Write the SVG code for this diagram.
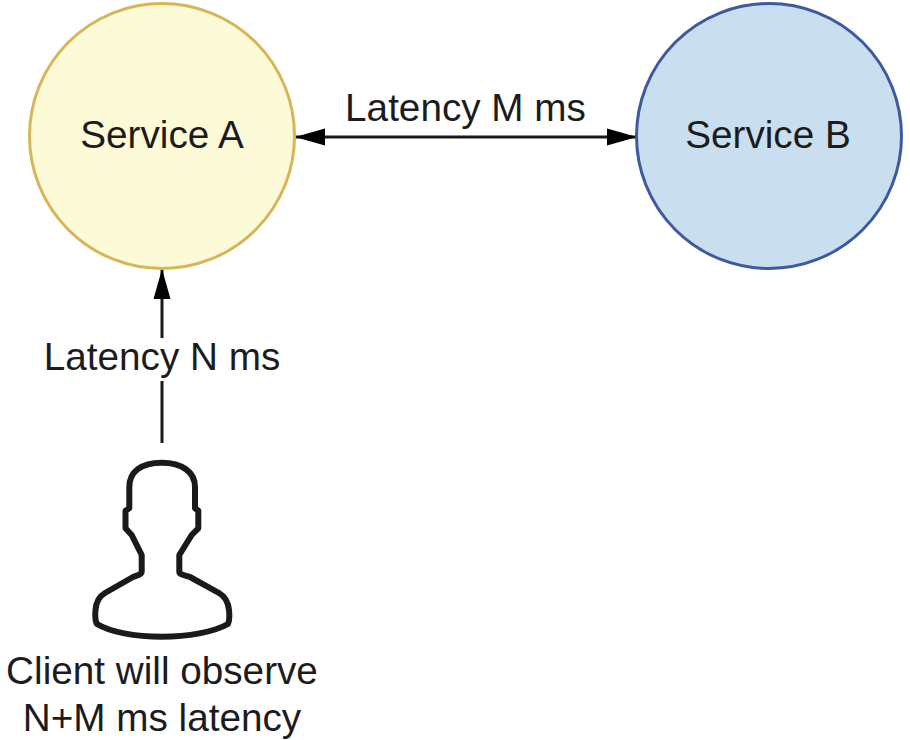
<svg xmlns="http://www.w3.org/2000/svg" width="910" height="740" viewBox="0 0 910 740">
<style>
text{font-family:"Liberation Sans",Arial,sans-serif;font-size:38.700px;fill:#1c1c1c;text-anchor:middle}
.c{stroke-width:3}
.l{stroke:#1a1a1a;stroke-width:3;fill:none}
</style>
<defs>
<marker id="a" markerUnits="userSpaceOnUse" markerWidth="32" markerHeight="20" refX="30" refY="10" orient="auto-start-reverse"><path d="M0 1.500L30 10L0 18.500Z" fill="#000"/></marker>
</defs>
<rect width="910" height="740" fill="#fff"/>
<g id="connectors">
<line class="l" x1="295" y1="137" x2="637" y2="137" marker-start="url(#a)" marker-end="url(#a)"/>
<line class="l" x1="162" y1="443" x2="162" y2="269" marker-end="url(#a)"/>
</g>
<g id="service-a"><circle class="c" cx="162" cy="136" r="132.500" fill="#fdfad8" stroke="#d6b656"/><text x="162" y="148">Service A</text></g>
<g id="service-b"><circle class="c" cx="769" cy="136" r="132.500" fill="#c9dff0" stroke="#3d5a9e"/><text x="768" y="148">Service B</text></g>
<g id="label-m"><text x="465.500" y="121">Latency M ms</text></g>
<g id="label-n"><rect x="40" y="338" width="244" height="43" fill="#fff"/><text x="162" y="370">Latency N ms</text></g>
<g id="client">
<path fill="#fff" stroke="#1a1a1a" stroke-width="6" stroke-linejoin="round" d="M161.700 462.700C141 462.700 129.300 472 129.300 487V508.300L125.500 510.700V528.300L131.700 535L141.700 555V571.700C141.700 575 137 575 133 577L105 593C98 597 96 603 95.500 610C95 616 95 621 97 624C110 632 135 636.700 161.700 636.700C188 636.700 214 632 228 624C230 620 229.500 615 229 610C228.300 603 226 597 219 593L190 577C185 575 179.300 575 179.300 571.700V555L191.700 535L198.300 528.300V510.700L195 508.300V487C195 472 182 462.700 161.700 462.700Z"/>
<text x="162" y="684">Client will observe</text>
<text x="162" y="731">N+M ms latency</text>
</g>
</svg>
